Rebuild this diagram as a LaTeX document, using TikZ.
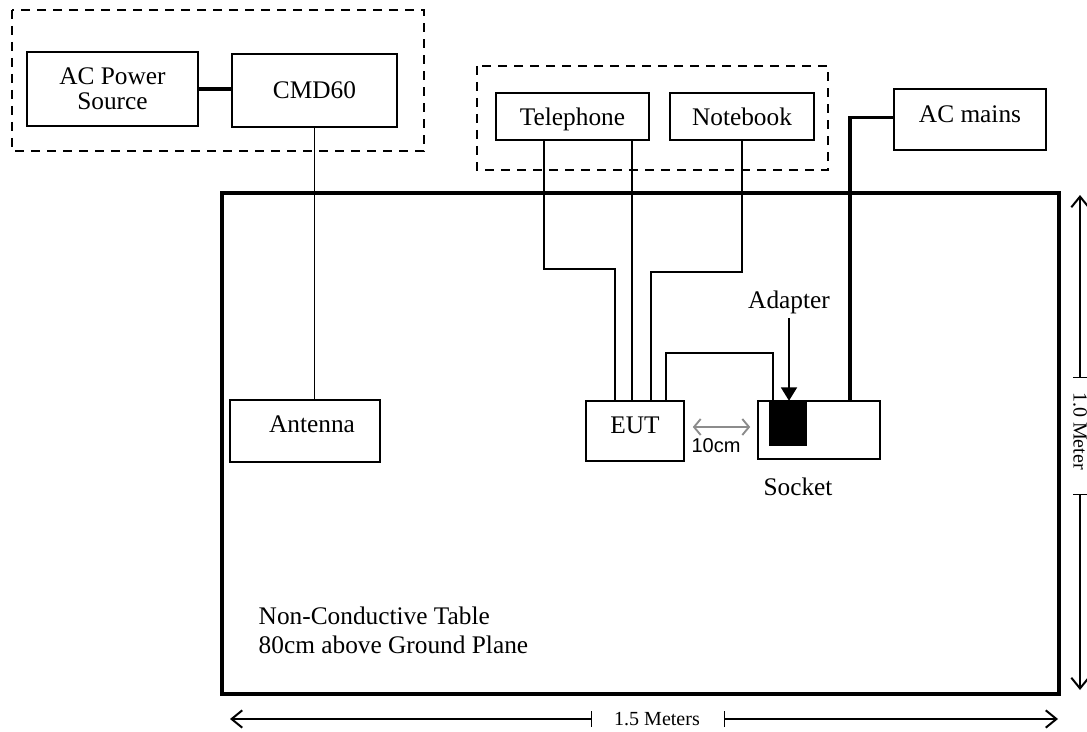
\documentclass[tikz,border=0pt]{standalone}
\usepackage{fontspec}
\setmainfont{Liberation Serif}
\newfontfamily\arialfont{Liberation Sans}
\usetikzlibrary{calc,arrows.meta}

\begin{document}
\begin{tikzpicture}[x=0.75pt,y=-0.75pt,
    font=\fontsize{19}{19}\selectfont,
    box/.style={draw,line width=1.2pt,rectangle,inner sep=0pt,align=center},
    grp/.style={line width=1.2pt,dash pattern=on 7pt off 5pt},
    cable/.style={line width=1.2pt},
    pwrline/.style={line width=2.6pt},
    dim/.style={line width=1pt},
    dimtip/.tip={Straight Barb[length=8pt,width=13pt,line width=1.5pt]},
    small/.style={font=\fontsize{15}{15}\selectfont}]
    \useasboundingbox (0,0) rectangle (1087,731);

    % Стіл
    \draw[line width=2.6pt] (222,193) rectangle (1059,694);
    \node[anchor=west,align=left,font=\fontsize{19}{21.75}\selectfont] (tbl) at (254,630.5)
        {Non-Conductive Table\\80cm above Ground Plane};

    % Вимірювальне обладнання
    \draw[grp] (12,10) rectangle (424,151);
    \node[box,minimum width=128.25pt,minimum height=55.5pt] (pwr) at (112.5,89) {AC Power\\Source};
    \node[box,minimum width=123.75pt,minimum height=54.75pt] (cmd) at (314.5,90.5) {CMD60};
    \draw[pwrline] (pwr.east) -- (pwr.east -| cmd.west);

    % Допоміжне обладнання
    \draw[grp] (477,66) rectangle (828,170);
    \node[box,minimum width=114.75pt,minimum height=35.25pt,text depth=0pt] (tel) at (572.5,116.5) {Telephone};
    \node[box,minimum width=108pt,minimum height=35.25pt] (note) at (742,116.5) {Notebook};
    \node[box,minimum width=114pt,minimum height=45.75pt,text depth=7.5pt] (mains) at (970,119.5) {AC mains};

    % Прилади на столі
    \node[box,minimum width=112.5pt,minimum height=46.5pt,text depth=10.5pt] (ant) at (305,431) {\hspace*{10.5pt}Antenna};
    \node[box,minimum width=73.5pt,minimum height=45pt,text depth=9pt] (eut) at (635,431) {EUT};
    \node[box,minimum width=91.5pt,minimum height=43.5pt] (sock) at (819,430) {};
    \node[fill=black,inner sep=0pt,minimum width=28.5pt,minimum height=33.75pt] (adp) at (788,423.5) {};
    \node (adpT) at (789,302) {Adapter};
    \node (sockT) at (798,487) {Socket};

    % Кабелі
    \coordinate (e1) at ($(eut.north west)+(30,0)$);
    \coordinate (e2) at ($(eut.north west)+(47,0)$);
    \coordinate (e3) at ($(eut.north west)+(66,0)$);
    \coordinate (e4) at ($(eut.north west)+(81,0)$);
    \draw[cable] (cmd.south) -- (cmd.south |- ant.north);
    \draw[cable] ($(tel.south west)+(49,0)$) -- ++(0,128) -| (e1);
    \draw[cable] (e2) -- (e2 |- tel.south);
    \draw[cable] (note.south) -- ++(0,131) -| (e3);
    \draw[cable] (e4) -- ++(0,-47) -| ($(sock.north west)+(16,0)$);
    \draw[pwrline] ($(mains.west)+(0,-2)$) -| ($(sock.north west)+(93,0)$);
    \draw[cable,-{Triangle[length=10pt,width=12pt]}] (adpT.south) -- (adpT.south |- adp.north);

    % Відстань 10 см
    \draw[black!45,line width=1.4pt,{Straight Barb[length=5pt,width=12pt]}-{Straight Barb[length=5pt,width=12pt]}]
        ($(eut.east)+(8,-4)$) -- ($(sock.west)+(-7,-3)$);
    \node[font=\arialfont\fontsize{15}{15}\selectfont] (dist) at (716,446) {10cm};

    % Розміри
    \coordinate (vtop) at (1080,195);
    \coordinate (vbot) at (1080,690);
    \coordinate (vg1) at (1080,378);
    \coordinate (vg2) at (1080,494);
    \draw[dim,{Bar[width=10pt]}-dimtip] (vg1) -- (vtop);
    \draw[dim,{Bar[width=10pt]}-dimtip] (vg2) -- (vbot);
    \node[small,rotate=-90] (vlbl) at (1080,431) {1.0 Meter};

    \coordinate (hl) at (230,719);
    \coordinate (hr) at (1058,719);
    \coordinate (hg1) at (592,719);
    \coordinate (hg2) at (724,719);
    \draw[dim,{Bar[width=12pt]}-dimtip] (hg1) -- (hl);
    \draw[dim,{Bar[width=12pt]}-dimtip] (hg2) -- (hr);
    \node[small] (hlbl) at (657,719) {1.5 Meters};
\end{tikzpicture}
\end{document}
